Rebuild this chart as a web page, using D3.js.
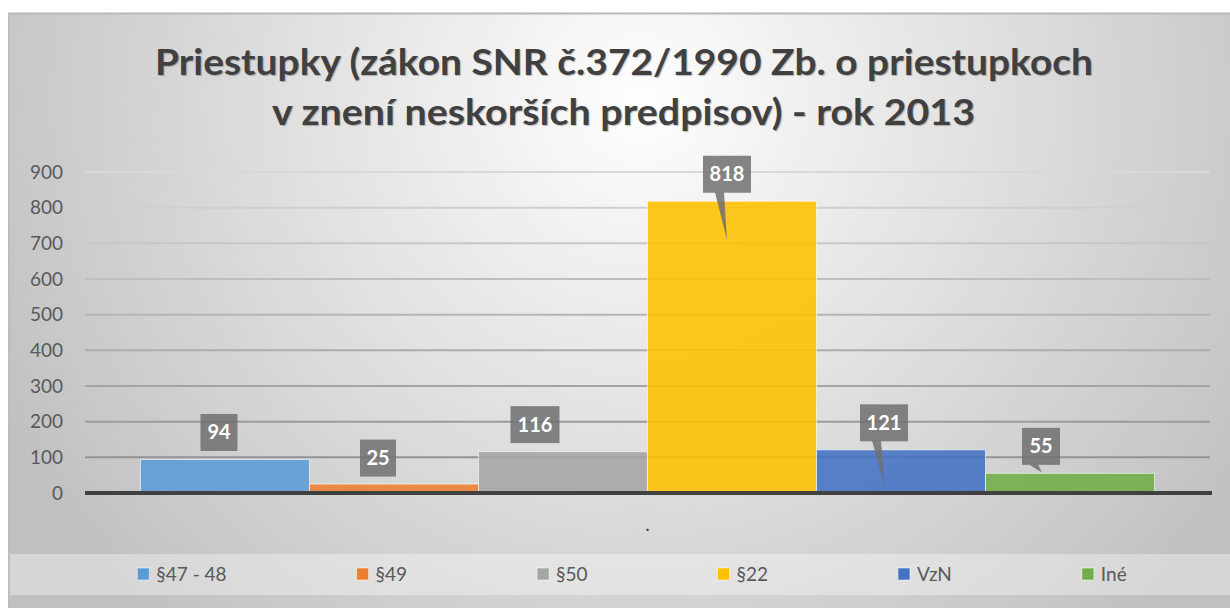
<!DOCTYPE html>
<html>
<head>
<meta charset="utf-8">
<script src="https://cdn.jsdelivr.net/npm/d3@7"></script>
<style>
  body { margin: 0; background: #fff; }
  svg { display: block; }
</style>
</head>
<body>
<script>
// data
const series = ["§47 - 48", "§49", "§50", "§22", "VzN", "Iné"];
const values = [94, 25, 116, 818, 121, 55];
const colors = ["#5b9bd5", "#ed7d31", "#a5a5a5", "#ffc000", "#4472c4", "#70ad47"];
const category = ["."];
const yTicks = [0, 100, 200, 300, 400, 500, 600, 700, 800, 900];
const titleLines = [
  "Priestupky (zákon SNR č.372/1990 Zb. o priestupkoch",
  "v znení neskorších predpisov) - rok 2013"
];

// label box layout (offset of box centre from bar top centre, box width, pointer tip offset or null)
const labelLayout = [
  { dx: -6, dy: -27, w: 37, tip: null },
  { dx: -16, dy: -26, w: 36, tip: null },
  { dx: -28, dy: -27, w: 49, tip: null },
  { dx: -5, dy: -27, w: 48, tip: [-5, 39] },
  { dx: -17, dy: -27, w: 48, tip: [-16, 37] },
  { dx: -29, dy: -27, w: 38, tip: [-28, -1] }
];

const width = 1230;
const height = 608;
const margin = { left: 85, right: 1210, top: 172, bottom: 493 };

const svg = d3.select("body").append("svg")
  .attr("width", width)
  .attr("height", height);

const defs = svg.append("defs");
const bg = defs.append("radialGradient")
  .attr("id", "bg")
  .attr("gradientUnits", "userSpaceOnUse")
  .attr("cx", 640).attr("cy", 100).attr("r", 720);
bg.append("stop").attr("offset", 0).attr("stop-color", "#fefefe");
bg.append("stop").attr("offset", 1).attr("stop-color", "#c0c0c0");

// chart area
svg.append("rect")
  .attr("x", 8).attr("y", 13)
  .attr("width", width - 8).attr("height", height - 13)
  .attr("fill", "url(#bg)");
svg.append("line")
  .attr("x1", 8).attr("x2", width).attr("y1", 13.5).attr("y2", 13.5)
  .attr("stroke", "#b8b8b8").attr("stroke-width", 2);
svg.append("line")
  .attr("x1", 9).attr("x2", 9).attr("y1", 13).attr("y2", height)
  .attr("stroke", "#bdbdbd").attr("stroke-width", 2);

// title
svg.append("g").selectAll("text")
  .data(titleLines)
  .join("text")
  .attr("x", (d, i) => i === 0 ? 155 : 272)
  .attr("y", (d, i) => 75 + i * 50)
  .attr("textLength", (d, i) => i === 0 ? 938 : 703)
  .attr("lengthAdjust", "spacingAndGlyphs")
  .attr("font-family", "Lato, 'Open Sans', sans-serif")
  .attr("font-weight", "bold")
  .attr("font-size", "37px")
  .attr("fill", "#404040")
  .style("text-shadow", "1px 1px 1px rgba(0,0,0,0.25)")
  .text(d => d);

// scales
const y = d3.scaleLinear()
  .domain([0, 900])
  .range([margin.bottom, margin.top]);

const x0 = d3.scaleBand()
  .domain(category)
  .range([margin.left, margin.right])
  .paddingOuter(0.0547)
  .paddingInner(0);

const x1 = d3.scaleBand()
  .domain(series)
  .range([x0(category[0]), x0(category[0]) + x0.bandwidth()])
  .padding(0);

const gridColor = d3.interpolateRgb("#8a8a8a", "#d8d8d8");

// gridlines
svg.append("g").selectAll("line")
  .data(yTicks.filter(t => t > 0))
  .join("line")
  .attr("x1", margin.left)
  .attr("x2", margin.right)
  .attr("y1", d => y(d))
  .attr("y2", d => y(d))
  .attr("stroke", d => gridColor(d / 900))
  .attr("stroke-width", 2);

// y axis labels
const yAxis = d3.axisLeft(y).tickValues(yTicks).tickSize(0).tickPadding(0);
const yg = svg.append("g")
  .attr("transform", `translate(63,0)`)
  .call(yAxis);
yg.select(".domain").remove();
yg.selectAll("text")
  .attr("font-family", "Lato, 'Open Sans', sans-serif")
  .attr("font-size", "19px")
  .attr("fill", "#595959");

// bars
svg.append("g").selectAll("rect")
  .data(values)
  .join("rect")
  .attr("x", (d, i) => x1(series[i]))
  .attr("y", d => y(d))
  .attr("width", x1.bandwidth())
  .attr("height", d => y(0) - y(d))
  .attr("fill", (d, i) => colors[i])
  .attr("fill-opacity", 0.88)
  .attr("stroke", "#ffffff")
  .attr("stroke-opacity", 0.6)
  .attr("stroke-width", 1);

// zero axis line
svg.append("line")
  .attr("x1", margin.left)
  .attr("x2", margin.right + 2)
  .attr("y1", y(0))
  .attr("y2", y(0))
  .attr("stroke", "#404040")
  .attr("stroke-width", 4);

// category label
svg.append("text")
  .attr("x", x0(category[0]) + x0.bandwidth() / 2)
  .attr("y", 531)
  .attr("text-anchor", "middle")
  .attr("font-family", "Lato, sans-serif")
  .attr("font-size", "19px")
  .attr("fill", "#404040")
  .text(category[0]);

// data labels (callouts)
const labels = svg.append("g").selectAll("g")
  .data(values)
  .join("g")
  .attr("transform", (d, i) => {
    const cx = x1(series[i]) + x1.bandwidth() / 2 + labelLayout[i].dx;
    const cy = y(d) + labelLayout[i].dy;
    return `translate(${cx},${cy})`;
  });

labels.each(function (d, i) {
  const L = labelLayout[i];
  const g = d3.select(this);
  if (L.tip) {
    const tx = L.tip[0] - L.dx;
    const ty = L.tip[1] - L.dy;
    g.append("path")
      .attr("d", `M${-12},18 L${-3},18 L${tx},${ty} Z`)
      .attr("fill", "#707070")
      .attr("fill-opacity", 0.85);
  }
  g.append("rect")
    .attr("x", -L.w / 2)
    .attr("y", -18.5)
    .attr("width", L.w)
    .attr("height", 37)
    .attr("fill", "#707070")
    .attr("fill-opacity", 0.85);
  g.append("text")
    .attr("text-anchor", "middle")
    .attr("y", 7)
    .attr("font-family", "Lato, 'Open Sans', sans-serif")
    .attr("font-weight", "bold")
    .attr("font-size", "20px")
    .attr("fill", "#ffffff")
    .text(d);
});

// legend band
svg.append("rect")
  .attr("x", 10).attr("y", 554)
  .attr("width", width - 10).attr("height", 41)
  .attr("fill", "#ffffff")
  .attr("fill-opacity", 0.35);

const legend = svg.append("g");
const items = legend.selectAll("g")
  .data(series)
  .join("g");
items.append("rect")
  .attr("width", 12).attr("height", 12)
  .attr("y", 568)
  .attr("fill", (d, i) => colors[i])
  .attr("stroke", "#ffffff")
  .attr("stroke-opacity", 0.5);
items.append("text")
  .attr("x", 19)
  .attr("y", 581)
  .attr("font-family", "Lato, 'Open Sans', sans-serif")
  .attr("font-size", "19px")
  .attr("fill", "#595959")
  .text(d => d);

// place legend items one after the other, centred
let pos = 0;
const gap = 130;
const offs = [];
items.each(function () {
  const w = 19 + d3.select(this).select("text").node().getComputedTextLength();
  offs.push(pos);
  pos += w + gap;
});
const total = pos - gap;
const start = 632 - total / 2;
items.attr("transform", (d, i) => `translate(${start + offs[i]},0)`);
</script>
</body>
</html>
